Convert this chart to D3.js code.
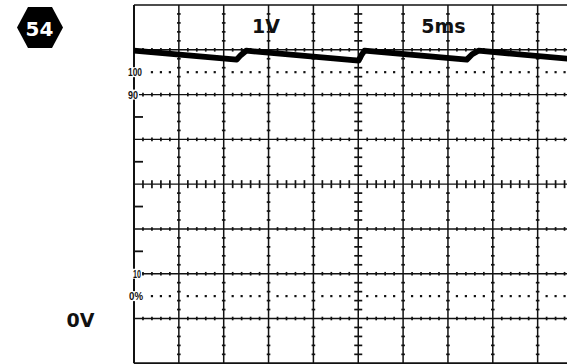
<!DOCTYPE html>
<html><head><meta charset="utf-8">
<script src="https://cdn.jsdelivr.net/npm/d3@7"></script>
<style>html,body{margin:0;padding:0;background:#fff;overflow:hidden}svg{display:block}</style>
</head><body>
<svg id="c" width="567" height="364"></svg>
<script>
// ---- data ----
const timeTicks = [0, 5, 10, 15, 20, 25, 30, 35, 40, 45, 50];   // ms (5 ms/div)
const voltTicks = [-1, 0, 1, 2, 3, 4, 5, 6, 7];                  // V (1 V/div)
const traceTime = [0, 11.45, 11.9, 12.5, 25.05, 25.35, 25.7, 37.1, 37.7, 38.4, 48.4];
const traceVolt = [5.98, 5.78, 5.88, 5.98, 5.76, 5.88, 5.98, 5.78, 5.9, 5.98, 5.80];
const levelLabels = ["100", "90", "10", "0%"];
const levelVolts = [5.5, 5, 1, 0.5];
const halfTickVolts = [4.5, 3.5, 2.5, 1.5];
const scaleLabels = ["1V", "5ms"];
const badgeLabel = "54";
const zeroLabel = "0V";

// ---- scales ----
const x = d3.scaleLinear().domain([0, 50]).range([134, 582.5]);
const y = d3.scaleLinear().domain([-1, 7]).range([363.3, 5]);
const svg = d3.select("#c");
const ink = "#111";

const minorT = d3.range(0, 50.001, 1);
const minorV = d3.range(-1, 7.001, 0.2);

// horizontal grid lines
const hLines = voltTicks.filter(v => v > -1 && v < 7);
svg.append("g").selectAll("line").data(hLines).join("line")
  .attr("x1", x(0)).attr("x2", x(50)).attr("y1", d => y(d)).attr("y2", d => y(d))
  .attr("stroke", ink).attr("stroke-width", 1.4);
// vertical grid lines
const vLines = timeTicks.filter(t => t > 0 && t < 50);
svg.append("g").selectAll("line").data(vLines).join("line")
  .attr("y1", y(7)).attr("y2", y(-1)).attr("x1", d => x(d)).attr("x2", d => x(d))
  .attr("stroke", ink).attr("stroke-width", 1.5);

// minor ticks on horizontal lines
const hTickData = [];
hLines.forEach(v => minorT.forEach(t => { if (t > 0 && t % 5 !== 0) hTickData.push({t, v, big: v === 3}); }));
svg.append("g").selectAll("line").data(hTickData).join("line")
  .attr("x1", d => x(d.t)).attr("x2", d => x(d.t))
  .attr("y1", d => y(d.v) - (d.big ? 4 : 1.8)).attr("y2", d => y(d.v) + (d.big ? 4 : 1.8))
  .attr("stroke", ink).attr("stroke-width", 1.7);
// minor ticks on vertical lines
const vTickData = [];
vLines.forEach(t => minorV.forEach(v => { const r = Math.round(v * 5); if (r % 5 !== 0) vTickData.push({t, v, big: t === 25}); }));
svg.append("g").selectAll("line").data(vTickData).join("line")
  .attr("y1", d => y(d.v)).attr("y2", d => y(d.v))
  .attr("x1", d => x(d.t) - (d.big ? 4 : 1.8)).attr("x2", d => x(d.t) + (d.big ? 4 : 1.8))
  .attr("stroke", ink).attr("stroke-width", 1.7);

// dotted 0% / 100% lines
const dotData = [];
[5.5, 0.5].forEach(v => minorT.forEach(t => { if (t > 1 && t % 5 !== 0) dotData.push({t, v}); }));
svg.append("g").selectAll("rect").data(dotData).join("rect")
  .attr("x", d => x(d.t) - 1.1).attr("y", d => y(d.v) - 1.1)
  .attr("width", 2.2).attr("height", 2.2).attr("fill", ink);

// border
svg.append("line").attr("x1", x(0)).attr("x2", x(0)).attr("y1", y(7)).attr("y2", y(-1))
  .attr("stroke", ink).attr("stroke-width", 2);
svg.append("line").attr("x1", x(0)).attr("x2", x(50)).attr("y1", y(7)).attr("y2", y(7))
  .attr("stroke", ink).attr("stroke-width", 1.6);
svg.append("line").attr("x1", x(0)).attr("x2", x(50)).attr("y1", y(-1)).attr("y2", y(-1))
  .attr("stroke", ink).attr("stroke-width", 2);

// half ticks on left border
svg.append("g").selectAll("line").data(halfTickVolts).join("line")
  .attr("x1", x(0)).attr("x2", x(0) + 9).attr("y1", d => y(d)).attr("y2", d => y(d))
  .attr("stroke", ink).attr("stroke-width", 1.8);

// level labels
const lblX = [128, 128, 133, 129];
const lblW = [14, 10, 8, 14];
const lg = svg.append("g").selectAll("g").data(levelLabels).join("g");
lg.append("rect").attr("x", (d, i) => lblX[i] - 1).attr("y", (d, i) => y(levelVolts[i]) - 5)
  .attr("width", (d, i) => lblW[i] + 2).attr("height", 10).attr("fill", "#fff");
lg.append("text").attr("x", (d, i) => lblX[i]).attr("y", (d, i) => y(levelVolts[i]) + 4)
  .attr("textLength", (d, i) => lblW[i]).attr("lengthAdjust", "spacingAndGlyphs")
  .attr("font-family", "Liberation Sans Narrow, Liberation Sans, Arial, sans-serif")
  .attr("font-size", 11).attr("font-weight", "bold").attr("fill", ink).text(d => d);

// trace
const pts = traceTime.map((t, i) => [t, traceVolt[i]]);
svg.append("path").datum(pts)
  .attr("d", d3.line().x(d => x(d[0])).y(d => y(d[1])).curve(d3.curveLinear))
  .attr("fill", "none").attr("stroke", "#000").attr("stroke-width", 5.8)
  .attr("stroke-linejoin", "round").attr("stroke-linecap", "butt");

// scale labels
const bigFont = "DejaVu Sans, Verdana, sans-serif";
const sx = [266, 443.5];
svg.append("g").selectAll("text").data(scaleLabels).join("text")
  .attr("x", (d, i) => sx[i]).attr("y", 32.5).attr("text-anchor", "middle")
  .attr("font-family", bigFont).attr("font-weight", "bold").attr("font-size", 19)
  .attr("fill", ink).text(d => d);
svg.append("text").attr("x", 80.5).attr("y", 327).attr("text-anchor", "middle")
  .attr("font-family", bigFont).attr("font-weight", "bold").attr("font-size", 19)
  .attr("fill", ink).text(zeroLabel);

// badge
const hex = [[17, 27.5], [28, 7], [52, 7], [63, 27.5], [52, 48], [28, 48]];
svg.append("path").attr("d", d3.line()(hex) + "Z").attr("fill", "#000");
svg.append("text").attr("x", 39.5).attr("y", 35.5).attr("text-anchor", "middle")
  .attr("font-family", bigFont).attr("font-weight", "bold").attr("font-size", 20)
  .attr("fill", "#fff").text(badgeLabel);
</script>
</body></html>
